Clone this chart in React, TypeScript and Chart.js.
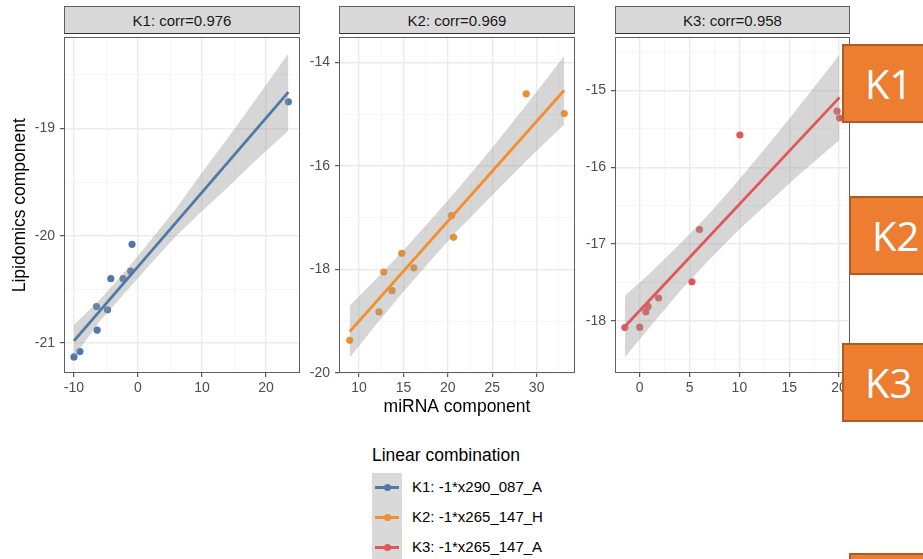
import React, { useEffect, useRef } from "react";
import { Chart, registerables } from "chart.js";

Chart.register(...registerables);

const FONT = "'Liberation Sans', Arial, Helvetica, sans-serif";

// ---------------- K1 panel ----------------
const k1Title = "K1: corr=0.976";
const k1X = [-10.0, -9.07, -6.47, -6.38, -4.76, -4.25, -2.33, -1.14, -0.93, 23.48];
const k1Y = [-21.13, -21.08, -20.66, -20.88, -20.69, -20.4, -20.4, -20.33, -20.08, -18.75];
const k1FitX = [-10.0, 23.48];
const k1FitY = [-20.98, -18.66];
const k1BandX = [-10, -6, -2, 2, 6, 10, 14, 18, 23.48];
const k1BandUpper = [-20.83, -20.6, -20.33, -20.04, -19.74, -19.41, -19.09, -18.76, -18.3];
const k1BandLower = [-21.13, -20.8, -20.53, -20.26, -20.0, -19.77, -19.55, -19.32, -19.02];
const k1XMajor = [-10, 0, 10, 20];
const k1XMinor = [-5, 5, 15];
const k1YMajor = [-21, -20, -19];
const k1YMinor = [-20.5, -19.5, -18.5];

// ---------------- K2 panel ----------------
const k2Title = "K2: corr=0.969";
const k2X = [8.95, 12.25, 12.78, 13.72, 14.81, 16.17, 20.42, 20.64, 28.83, 33.11];
const k2Y = [-19.37, -18.82, -18.05, -18.41, -17.69, -17.97, -16.96, -17.38, -14.61, -14.99];
const k2FitX = [8.95, 33.11];
const k2FitY = [-19.2, -14.54];
const k2BandX = [8.95, 12, 15, 18, 21, 24, 27, 30, 33.11];
const k2BandUpper = [-18.7, -18.17, -17.63, -17.06, -16.47, -15.86, -15.22, -14.57, -13.88];
const k2BandLower = [-19.7, -19.05, -18.43, -17.84, -17.27, -16.74, -16.22, -15.71, -15.2];
const k2XMajor = [10, 15, 20, 25, 30];
const k2XMinor = [12.5, 17.5, 22.5, 27.5, 32.5];
const k2YMajor = [-20, -18, -16, -14];
const k2YMinor = [-19, -17, -15];

// ---------------- K3 panel ----------------
const k3Title = "K3: corr=0.958";
const k3X = [-1.49, 0.0, 0.61, 0.84, 1.89, 5.24, 6.0, 10.05, 19.8, 20.05];
const k3Y = [-18.085, -18.08, -17.88, -17.81, -17.7, -17.49, -16.81, -15.58, -15.27, -15.36];
const k3FitX = [-1.49, 20.05];
const k3FitY = [-18.07, -15.09];
const k3BandX = [-1.49, 1, 4, 7, 10, 13, 16, 20.05];
const k3BandUpper = [-17.67, -17.38, -17.0, -16.6, -16.155, -15.69, -15.205, -14.535];
const k3BandLower = [-18.47, -18.08, -17.62, -17.2, -16.805, -16.45, -16.095, -15.645];
const k3XMajor = [0, 5, 10, 15, 20];
const k3XMinor = [2.5, 7.5, 12.5, 17.5];
const k3YMajor = [-18, -17, -16, -15];
const k3YMinor = [-18.5, -17.5, -16.5, -15.5, -14.5];

// ---------------- legend / annotations ----------------
const legendTitle = "Linear combination";
const legendLabels = ["K1: -1*x290_087_A", "K2: -1*x265_147_H", "K3: -1*x265_147_A"];
const seriesColors = ["#4E79A7", "#F28E2B", "#E15759"];
const yAxisTitle = "Lipidomics component";
const xAxisTitle = "miRNA component";
const calloutLabels = ["K1", "K2", "K3", ""];

type Spec = {
  title: string;
  xs: number[];
  ys: number[];
  fitX: number[];
  fitY: number[];
  bandX: number[];
  bandU: number[];
  bandL: number[];
  color: string;
  xMin: number;
  xMax: number;
  yMin: number;
  yMax: number;
  xMajor: number[];
  xMinor: number[];
  yMajor: number[];
  yMinor: number[];
  yTitle?: string;
  xTitle?: string;
  L: number;
  T: number;
  R: number;
  B: number;
  YW: number;
};

const XH = 45;
const PT = 10;
const PR = 20;

const specs: Spec[] = [
  {
    title: k1Title, xs: k1X, ys: k1Y, fitX: k1FitX, fitY: k1FitY, bandX: k1BandX, bandU: k1BandUpper, bandL: k1BandLower,
    color: seriesColors[0], xMin: -11.56, xMax: 25.3, yMin: -21.28, yMax: -18.15,
    xMajor: k1XMajor, xMinor: k1XMinor, yMajor: k1YMajor, yMinor: k1YMinor,
    yTitle: yAxisTitle, L: 64, T: 34, R: 300, B: 373, YW: 64,
  },
  {
    title: k2Title, xs: k2X, ys: k2Y, fitX: k2FitX, fitY: k2FitY, bandX: k2BandX, bandU: k2BandUpper, bandL: k2BandLower,
    color: seriesColors[1], xMin: 7.745, xMax: 34.32, yMin: -20.0, yMax: -13.52,
    xMajor: k2XMajor, xMinor: k2XMinor, yMajor: k2YMajor, yMinor: k2YMinor,
    xTitle: xAxisTitle, L: 339, T: 34, R: 575, B: 373, YW: 45,
  },
  {
    title: k3Title, xs: k3X, ys: k3Y, fitX: k3FitX, fitY: k3FitY, bandX: k3BandX, bandU: k3BandUpper, bandL: k3BandLower,
    color: seriesColors[2], xMin: -2.48, xMax: 21.1, yMin: -18.676, yMax: -14.31,
    xMajor: k3XMajor, xMinor: k3XMinor, yMajor: k3YMajor, yMinor: k3YMinor,
    L: 615, T: 34, R: 850, B: 373, YW: 45,
  },
];

const borderPlugin = {
  id: "panelBorder",
  afterDraw(chart: any) {
    const { ctx, chartArea: a } = chart;
    ctx.save();
    ctx.strokeStyle = "#5e5e5e";
    ctx.lineWidth = 1;
    ctx.strokeRect(Math.round(a.left) + 0.5, Math.round(a.top) + 0.5, Math.round(a.right - a.left) - 1, Math.round(a.bottom - a.top) - 1);
    ctx.restore();
  },
};

function axisOpts(min: number, max: number, major: number[], minor: number[], isX: boolean, fixed: number, title?: string) {
  const isMajor = (ctx: any) => ctx.tick && major.includes(ctx.tick.value);
  return {
    type: "linear",
    min,
    max,
    afterFit: (s: any) => {
      if (isX) s.height = fixed;
      else s.width = fixed;
    },
    afterBuildTicks: (s: any) => {
      s.ticks = [...major, ...minor].sort((a, b) => a - b).map((v) => ({ value: v }));
    },
    ticks: {
      autoSkip: false,
      maxRotation: 0,
      padding: isX ? 3 : 5,
      color: "#4D4D4D",
      font: { family: FONT, size: 14 },
      callback: (v: any) => (major.includes(v) ? String(v) : ""),
    },
    grid: {
      color: (ctx: any) => (isMajor(ctx) ? "#EBEBEB" : "#F4F4F4"),
      lineWidth: (ctx: any) => (isMajor(ctx) ? 1.4 : 0.8),
      tickLength: 4,
      tickWidth: 1,
      tickColor: (ctx: any) => (isMajor(ctx) ? "#333333" : "rgba(0,0,0,0)"),
      drawTicks: true,
    },
    border: { display: false },
    title: {
      display: !!title,
      text: title || "",
      color: "#000000",
      font: { family: FONT, size: 17.5 },
      padding: isX ? { top: 0, bottom: 0 } : { top: 9.5, bottom: 0 },
    },
  };
}

function Panel({ spec }: { spec: Spec }) {
  const ref = useRef<HTMLCanvasElement>(null);
  const w = spec.R - spec.L + spec.YW + PR;
  const h = spec.B - spec.T + PT + XH;
  const left = spec.L - spec.YW;
  const top = spec.T - PT;

  useEffect(() => {
    const canvas = ref.current;
    if (!canvas) return;
    const chart = new Chart(canvas, {
      type: "line",
      data: {
        datasets: [
          {
            data: spec.xs.map((x, i) => ({ x, y: spec.ys[i] })),
            showLine: false,
            pointRadius: 3.6,
            pointBackgroundColor: spec.color,
            pointBorderWidth: 0,
            borderColor: spec.color,
            order: 3,
          },
          {
            data: spec.bandX.map((x, i) => ({ x, y: spec.bandU[i] })),
            borderWidth: 0,
            borderColor: "rgba(0,0,0,0)",
            pointRadius: 0,
            fill: "+1",
            backgroundColor: "rgba(153,153,153,0.4)",
            tension: 0,
            order: 2,
          },
          {
            data: spec.bandX.map((x, i) => ({ x, y: spec.bandL[i] })),
            borderWidth: 0,
            borderColor: "rgba(0,0,0,0)",
            pointRadius: 0,
            fill: false,
            tension: 0,
            order: 2,
          },
          {
            data: spec.fitX.map((x, i) => ({ x, y: spec.fitY[i] })),
            borderColor: spec.color,
            borderWidth: 2.8,
            pointRadius: 0,
            fill: false,
            tension: 0,
            order: 1,
          },
        ],
      } as any,
      options: {
        animation: false,
        responsive: false,
        maintainAspectRatio: false,
        devicePixelRatio: 1,
        events: [],
        layout: { padding: { top: PT, right: PR, left: 0, bottom: 0 } },
        plugins: {
          legend: { display: false },
          tooltip: { enabled: false },
        },
        scales: {
          x: axisOpts(spec.xMin, spec.xMax, spec.xMajor, spec.xMinor, true, XH, spec.xTitle),
          y: axisOpts(spec.yMin, spec.yMax, spec.yMajor, spec.yMinor, false, spec.YW, spec.yTitle),
        },
      } as any,
      plugins: [borderPlugin],
    });
    return () => chart.destroy();
  }, []);

  return (
    <>
      <canvas
        ref={ref}
        width={w}
        height={h}
        style={{ position: "absolute", left, top, width: w, height: h }}
      />
      <div
        style={{
          position: "absolute",
          left: spec.L,
          top: 6,
          width: spec.R - spec.L,
          height: 28,
          boxSizing: "border-box",
          background: "#D9D9D9",
          border: "1px solid #5e5e5e",
          borderBottom: "1px solid #333333",
          display: "flex",
          alignItems: "center",
          justifyContent: "center",
          fontFamily: FONT,
          fontSize: 15,
          color: "#1A1A1A",
        }}
      >
        {spec.title}
      </div>
    </>
  );
}

const callouts = [
  { left: 842, top: 44, height: 79 },
  { left: 849, top: 196, height: 79 },
  { left: 842, top: 343, height: 79 },
  { left: 849, top: 553, height: 79 },
];

export default function App() {
  return (
    <div
      style={{
        position: "fixed",
        left: 0,
        top: 0,
        width: 923,
        height: 559,
        background: "#ffffff",
        overflow: "hidden",
      }}
    >
      {specs.map((s, i) => (
        <Panel key={i} spec={s} />
      ))}

      {/* legend */}
      <div
        style={{
          position: "absolute",
          left: 372,
          top: 444,
          fontFamily: FONT,
          fontSize: 17.5,
          lineHeight: "22px",
          color: "#000",
          whiteSpace: "nowrap",
        }}
      >
        {legendTitle}
      </div>
      <div style={{ position: "absolute", left: 372, top: 473, width: 30, height: 90, background: "#D9D9D9" }} />
      {legendLabels.map((lab, i) => {
        const cy = 487 + i * 30;
        return (
          <React.Fragment key={lab}>
            <div
              style={{
                position: "absolute",
                left: 375,
                top: cy - 1.5,
                width: 24,
                height: 3,
                background: seriesColors[i],
              }}
            />
            <div
              style={{
                position: "absolute",
                left: 387 - 3.5,
                top: cy - 3.5,
                width: 7,
                height: 7,
                borderRadius: "50%",
                background: seriesColors[i],
              }}
            />
            <div
              style={{
                position: "absolute",
                left: 412,
                top: cy - 9,
                height: 18,
                lineHeight: "18px",
                fontFamily: FONT,
                fontSize: 15,
                color: "#000",
                whiteSpace: "nowrap",
              }}
            >
              {lab}
            </div>
          </React.Fragment>
        );
      })}

      {/* orange callout boxes */}
      {callouts.map((c, i) => (
        <div
          key={i}
          style={{
            position: "absolute",
            left: c.left,
            top: c.top,
            width: 120,
            height: c.height,
            boxSizing: "border-box",
            background: "#ED7D31",
            border: "2px solid #AE5A21",
            display: "flex",
            alignItems: "center",
            paddingLeft: 21,
            fontFamily: "'Open Sans', 'DejaVu Sans', sans-serif",
            fontSize: 40,
            color: "#ffffff",
            zIndex: 5,
          }}
        >
          {calloutLabels[i]}
        </div>
      ))}
    </div>
  );
}
